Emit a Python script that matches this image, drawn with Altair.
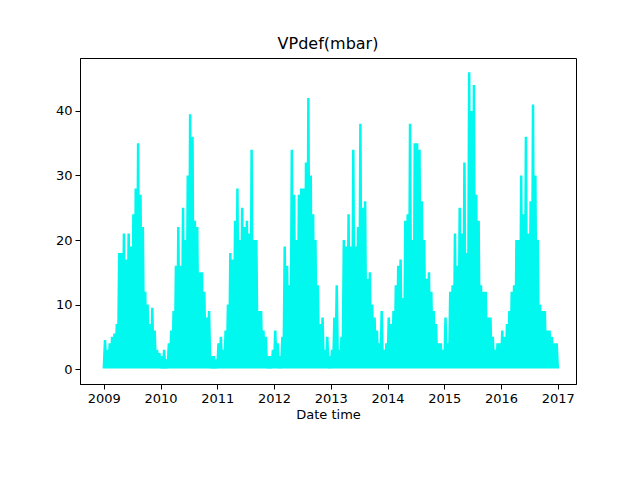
import altair as alt
import pandas as pd

# semi-monthly peak VPdef values, one list per year
years = [2009, 2010, 2011, 2012, 2013, 2014, 2015, 2016]
peaks = [
    [4.5, 3, 4, 5, 5.5, 7, 18, 18, 21, 17, 21, 19, 24, 28, 35, 27, 22, 12, 10, 7, 9.5, 6, 3, 2.5],
    [2, 3, 1.5, 4, 6, 9, 16, 22, 16, 25, 20, 30, 39.5, 36, 23, 22, 15, 15, 12, 8, 9, 2, 2, 1.5],
    [4, 5, 3, 6, 10, 18, 17, 23, 28, 20, 25, 22, 23, 21, 34, 20, 20, 9, 9, 6, 5, 2, 2, 3],
    [6, 4, 2, 5, 19, 16, 13, 34, 27, 20, 27, 28, 28, 32, 42, 30, 24, 20, 13, 7, 8, 3, 5, 2],
    [3, 8, 13, 3, 5, 20, 19, 24, 19, 34, 19, 22, 38, 25, 26, 14, 15, 10, 8, 6, 4, 9, 3, 4],
    [8, 7, 9, 13, 16, 17, 11, 23, 24, 38, 20, 35, 35, 34, 26, 20, 14, 15, 12, 9, 7, 4, 4, 3],
    [8, 4, 12, 13, 21, 16, 25, 21, 32, 18, 46, 40, 44, 27, 23, 13, 12, 12, 8, 8, 5, 3, 4, 4],
    [6, 5, 7, 9, 12, 13, 20, 20, 30, 24, 36, 21, 26, 41, 30, 20, 10, 9, 9, 6, 6, 5, 4, 4],
]
low_value = 0.1

rows = []
for y, vals in zip(years, peaks):
    for i, v in enumerate(vals):
        rows.append({"t": y + i / 24, "v": low_value})
        rows.append({"t": y + (i + 0.5) / 24, "v": v})
rows.append({"t": 2017.0, "v": low_value})
df = pd.DataFrame(rows)

ax_style = dict(grid=False, domainColor="black", tickColor="black", labelColor="black",
                labelFontSize=13, labelFont="DejaVu Sans", tickSize=5, labelPadding=3)

chart = alt.Chart(df).mark_line(color="#00f8ee", strokeWidth=2.5, clip=True).encode(
    x=alt.X("t:Q", title="Date time",
            scale=alt.Scale(domain=[2008.58, 2017.32], nice=False, zero=False),
            axis=alt.Axis(values=list(range(2009, 2018)), format="d",
                          titleFontSize=13, titleFontWeight="normal",
                          titleFont="DejaVu Sans", titleColor="black", titlePadding=3,
                          **ax_style)),
    y=alt.Y("v:Q", title=None,
            scale=alt.Scale(domain=[-2.3, 48.2], nice=False, zero=False),
            axis=alt.Axis(values=[0, 10, 20, 30, 40], **ax_style)),
    order="t:Q",
).properties(
    width=496, height=326,
    title=alt.TitleParams("VPdef(mbar)", font="DejaVu Sans", fontSize=16,
                          fontWeight="normal", offset=6, color="black"),
    autosize=alt.AutoSizeParams(type="none"),
    padding={"left": 72, "top": 50, "right": 56, "bottom": 88},
).configure_view(stroke="black", strokeWidth=1)

chart.save("out.html", embed_options={"renderer": "svg", "actions": False})
